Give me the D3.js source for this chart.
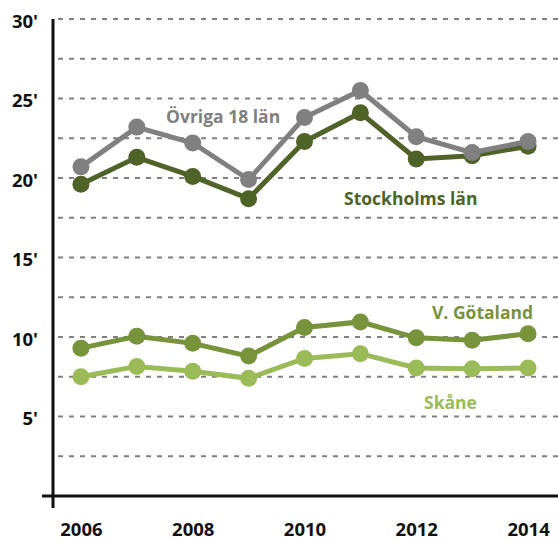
<!DOCTYPE html>
<html>
<head>
<meta charset="utf-8">
<script src="https://cdn.jsdelivr.net/npm/d3@7"></script>
<style>
  body { margin: 0; background: #fff; }
</style>
</head>
<body>
<div id="container"></div>
<script>
const width = 558,
  height = 542,
  margin = { top: 19, bottom: 46, left: 53, right: 2 }

// DATA
const years = [2006, 2007, 2008, 2009, 2010, 2011, 2012, 2013, 2014]
const yTicks = [5, 10, 15, 20, 25, 30]
const xTickYears = [2006, 2008, 2010, 2012, 2014]

const ovriga = [20.7, 23.2, 22.2, 19.9, 23.8, 25.5, 22.6, 21.6, 22.3]
const stockholm = [19.6, 21.3, 20.1, 18.7, 22.3, 24.1, 21.2, 21.4, 22.0]
const vgotaland = [9.3, 10.05, 9.6, 8.8, 10.6, 10.95, 9.95, 9.8, 10.2]
const skane = [7.5, 8.15, 7.85, 7.4, 8.65, 8.95, 8.05, 8.0, 8.05]

const seriesNames = ["Övriga 18 län", "Stockholms län", "V. Götaland", "Skåne"]
const seriesColors = ["#808080", "#4f6228", "#77933c", "#9bbb59"]

const series = [ovriga, stockholm, vgotaland, skane].map((vals, i) => ({
  name: seriesNames[i],
  color: seriesColors[i],
  values: vals.map((v, j) => ({ year: years[j], value: v }))
}))

const tickFont = "700 18.5px 'Open Sans'"
const labelFont = "700 17.5px 'Open Sans'"

// SCALES
const xScale = d3.scalePoint()
  .domain(years)
  .range([margin.left, width - margin.right])
  .padding(0.5)

const yScale = d3.scaleLinear()
  .domain([0, 30])
  .range([height - margin.bottom, margin.top])

const svg = d3.select("#container")
  .append("svg")
  .attr("width", width)
  .attr("height", height)

// gridlines every 2.5
const gridVals = d3.range(2.5, 30.01, 2.5)
svg.append("g")
  .selectAll("line")
  .data(gridVals)
  .join("line")
  .attr("x1", margin.left + 5)
  .attr("x2", width)
  .attr("y1", d => yScale(d))
  .attr("y2", d => yScale(d))
  .attr("stroke", "#808080")
  .attr("stroke-width", 2)
  .attr("stroke-dasharray", "5,6")

// AXES
const yAxis = d3.axisLeft(yScale)
  .tickValues(yTicks)
  .tickSize(0)
  .tickPadding(15)
  .tickFormat(d => d + "'")
svg.append("g")
  .attr("transform", `translate(${margin.left},0)`)
  .style("font", tickFont)
  .call(yAxis)
  .call(g => g.select(".domain").remove())
  .call(g => g.selectAll("text").attr("dy", "0.72em").attr("fill", "#111").attr("y", -5))

const xAxis = d3.axisBottom(xScale)
  .tickValues(xTickYears)
  .tickSize(0)
  .tickPadding(27)
  .tickFormat(d3.format("d"))
svg.append("g")
  .attr("transform", `translate(0,${yScale(0)})`)
  .style("font", tickFont)
  .call(xAxis)
  .call(g => g.select(".domain").remove())
  .call(g => g.selectAll("text").attr("fill", "#111"))

// axis lines
svg.append("line")
  .attr("x1", margin.left).attr("x2", margin.left)
  .attr("y1", yScale(30)).attr("y2", yScale(0) + 12)
  .attr("stroke", "#111").attr("stroke-width", 3)
svg.append("line")
  .attr("x1", 42).attr("x2", width)
  .attr("y1", yScale(0)).attr("y2", yScale(0))
  .attr("stroke", "#111").attr("stroke-width", 3)

// LINES
const lineGen = d3.line()
  .x(d => xScale(d.year))
  .y(d => yScale(d.value))

// Stockholm first so Övriga sits on top where they touch
const drawOrder = [series[1], series[0], series[2], series[3]]
drawOrder.forEach(s => {
  const g = svg.append("g")
  g.append("path")
    .datum(s.values)
    .attr("fill", "none")
    .attr("stroke", s.color)
    .attr("stroke-width", 5)
    .attr("d", lineGen)
  g.selectAll("circle")
    .data(s.values)
    .join("circle")
    .attr("cx", d => xScale(d.year))
    .attr("cy", d => yScale(d.value))
    .attr("r", 8.5)
    .attr("fill", s.color)
})

// series labels
const labels = [
  { name: seriesNames[0], color: seriesColors[0], x: 166, y: 123 },
  { name: seriesNames[1], color: seriesColors[1], x: 344, y: 205 },
  { name: seriesNames[2], color: seriesColors[2], x: 432, y: 319 },
  { name: seriesNames[3], color: seriesColors[3], x: 424, y: 409 }
]
svg.selectAll(".lbl")
  .data(labels)
  .join("text")
  .attr("class", "lbl")
  .attr("x", d => d.x)
  .attr("y", d => d.y)
  .attr("fill", d => d.color)
  .style("font", labelFont)
  .text(d => d.name)
</script>
</body>
</html>
